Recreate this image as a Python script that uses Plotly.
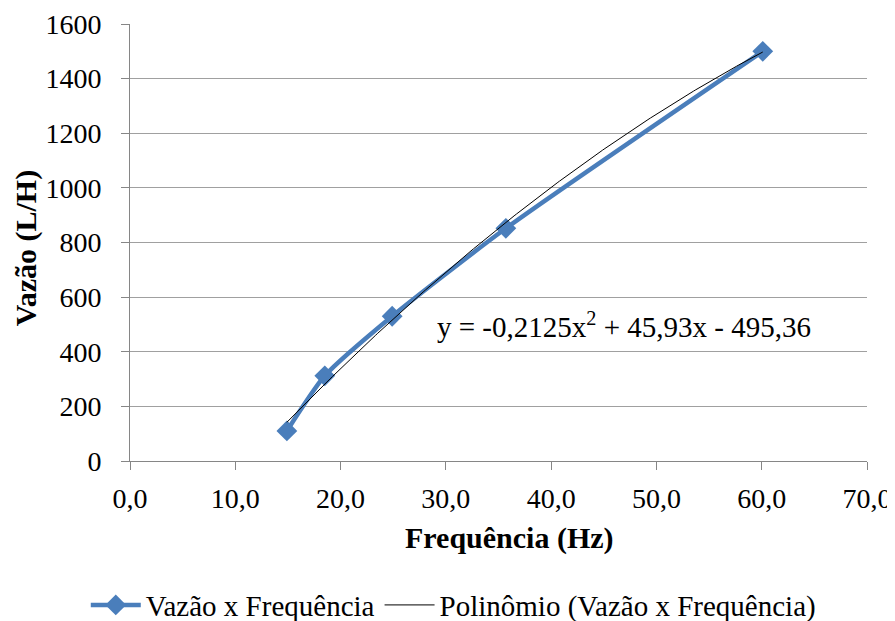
import plotly.graph_objects as go
import numpy as np

freq = [14.9, 18.5, 24.9, 35.7, 60.1]
vazao = [110, 312, 530, 852, 1500]
poly_coef = [-0.2125, 45.93, -495.36]
eq_text = "y = -0,2125x<sup>2</sup> + 45,93x - 495,36"
x_ticks = [0, 10, 20, 30, 40, 50, 60, 70]
x_ticklabels = ["0,0", "10,0", "20,0", "30,0", "40,0", "50,0", "60,0", "70,0"]
y_ticks = [0, 200, 400, 600, 800, 1000, 1200, 1400, 1600]
x_title = "Frequência (Hz)"
y_title = "Vazão (L/H)"

xs = np.linspace(min(freq), max(freq), 200)
ys = np.polyval(poly_coef, xs)

font_family = "Liberation Serif"
blue = "#4A7EBB"
axis_col = "#868686"

fig = go.Figure()
fig.add_trace(go.Scatter(x=freq, y=vazao, mode="lines+markers", name="Vazão x Frequência",
                         line=dict(color=blue, width=4.5, shape="spline", smoothing=0.6),
                         marker=dict(symbol="diamond", size=16, color=blue)))
fig.add_trace(go.Scatter(x=xs, y=ys, mode="lines", name="Polinômio (Vazão x Frequência)",
                         line=dict(color="black", width=1)))

fig.add_annotation(x=29.0, y=498, text=eq_text, showarrow=False, xanchor="left", yanchor="middle",
                   font=dict(family=font_family, size=29, color="black"))
fig.add_annotation(xref="paper", yref="paper", x=0.5156, y=-0.176, text="<b>" + x_title + "</b>",
                   showarrow=False, xanchor="center", yanchor="middle",
                   font=dict(family=font_family, size=30, color="black"))
fig.add_annotation(xref="paper", yref="paper", x=-0.141, y=0.487, text="<b>" + y_title + "</b>",
                   showarrow=False, xanchor="center", yanchor="middle", textangle=-90,
                   font=dict(family=font_family, size=30, color="black"))

fig.update_layout(
    width=887, height=613,
    margin=dict(l=122, r=28, t=16, b=160, autoexpand=False),
    plot_bgcolor="white", paper_bgcolor="white",
    font=dict(family=font_family, size=28, color="black"),
    showlegend=True,
    legend=dict(orientation="h", xref="container", x=0.502, xanchor="center",
                yref="container", y=0.026, yanchor="middle",
                font=dict(family=font_family, size=29), itemwidth=50, traceorder="normal"),
    xaxis=dict(range=[0, 70], tickvals=x_ticks, ticktext=x_ticklabels, automargin=False,
               showgrid=False, zeroline=False, showline=True, linecolor=axis_col, linewidth=1,
               ticks="outside", ticklen=8, tickcolor=axis_col, ticklabelstandoff=4,
               tickfont=dict(family=font_family, size=28)),
    yaxis=dict(range=[0, 1600], tickvals=y_ticks, showgrid=True, gridcolor="#A0A0A0", gridwidth=1,
               automargin=False,
               zeroline=False, showline=True, linecolor=axis_col, linewidth=1,
               ticks="outside", ticklen=8, tickcolor=axis_col, ticklabelstandoff=14,
               tickfont=dict(family=font_family, size=28)),
)

fig.write_html("out.html")
